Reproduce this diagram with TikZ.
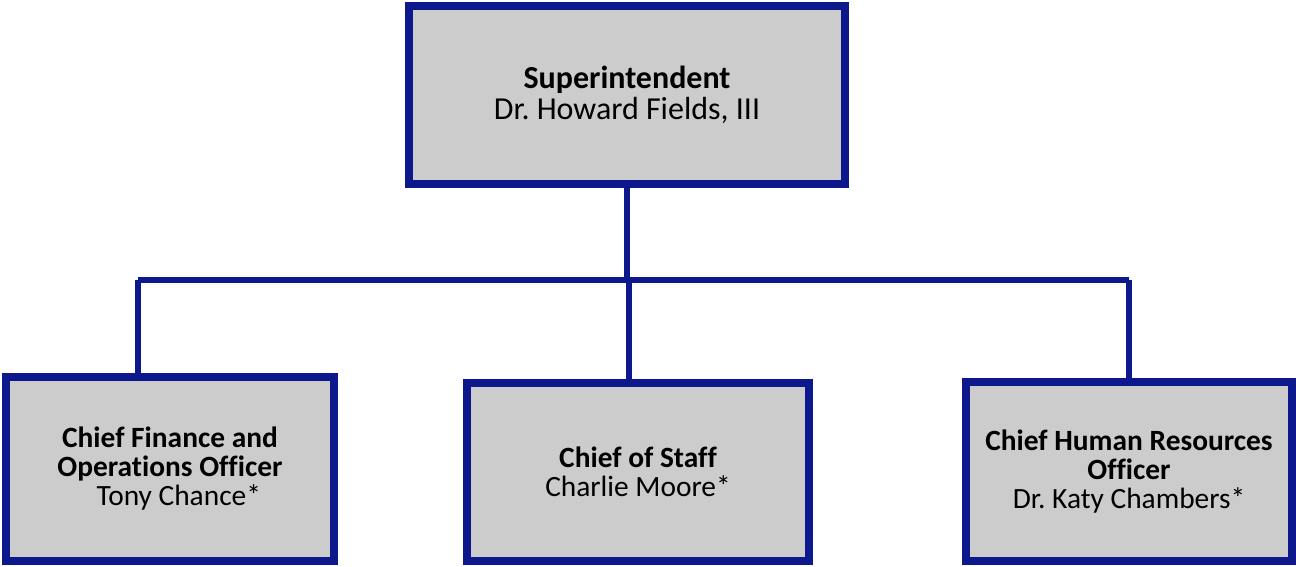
\documentclass[tikz,border=0pt]{standalone}
\usepackage{fontspec}
\setmainfont{Carlito}[Ligatures=NoCommon]
\usepackage{xcolor}
\definecolor{navy}{RGB}{12,24,140}
\definecolor{boxgray}{HTML}{CCCCCC}
\frenchspacing

\begin{document}
\begin{tikzpicture}[x=0.5pt,y=0.5pt,line join=miter,
  post/.style={draw=navy,fill=boxgray,line width=4pt,align=center,
    inner sep=0pt,font=\fontsize{14.7}{14.5}\selectfont},
  link/.style={navy,line width=3pt}]
  % canvas in pixel units, origin bottom left
  \useasboundingbox (0,0) rectangle (1296,567);
  \node[post,minimum width=218pt,minimum height=89pt,
    font=\fontsize{16}{15.5}\selectfont] (sup) at (627,472)
    {\textbf{Superintendent}\\Dr. Howard Fields, III};
  \node[post,minimum width=164pt,minimum height=92pt] (cfo) at (170,98)
    {\textbf{Chief Finance and}\\\textbf{Operations Officer}\\\hspace*{0.6em}Tony Chance*};
  \node[post,minimum width=171pt,minimum height=89pt] (cos) at (638,95)
    {\textbf{Chief of Staff}\\Charlie Moore*};
  \node[post,minimum width=163pt,minimum height=89.5pt] (chro) at (1129,95.5)
    {\textbf{Chief Human Resources}\\\textbf{Officer}\\Dr. Katy Chambers*};
  % bus line
  \coordinate (jL) at (138,287);
  \coordinate (jM) at (629,287);
  \coordinate (jR) at (1129,287);
  \draw[link] (jL) -- (jR);
  \draw[link] (sup.south) -- (sup.south |- jL);
  \draw[link] (jL) -- (jL |- cfo.north);
  \draw[link] (jM) -- (jM |- cos.north);
  \draw[link] (jR) -- (chro.north);
\end{tikzpicture}
\end{document}
